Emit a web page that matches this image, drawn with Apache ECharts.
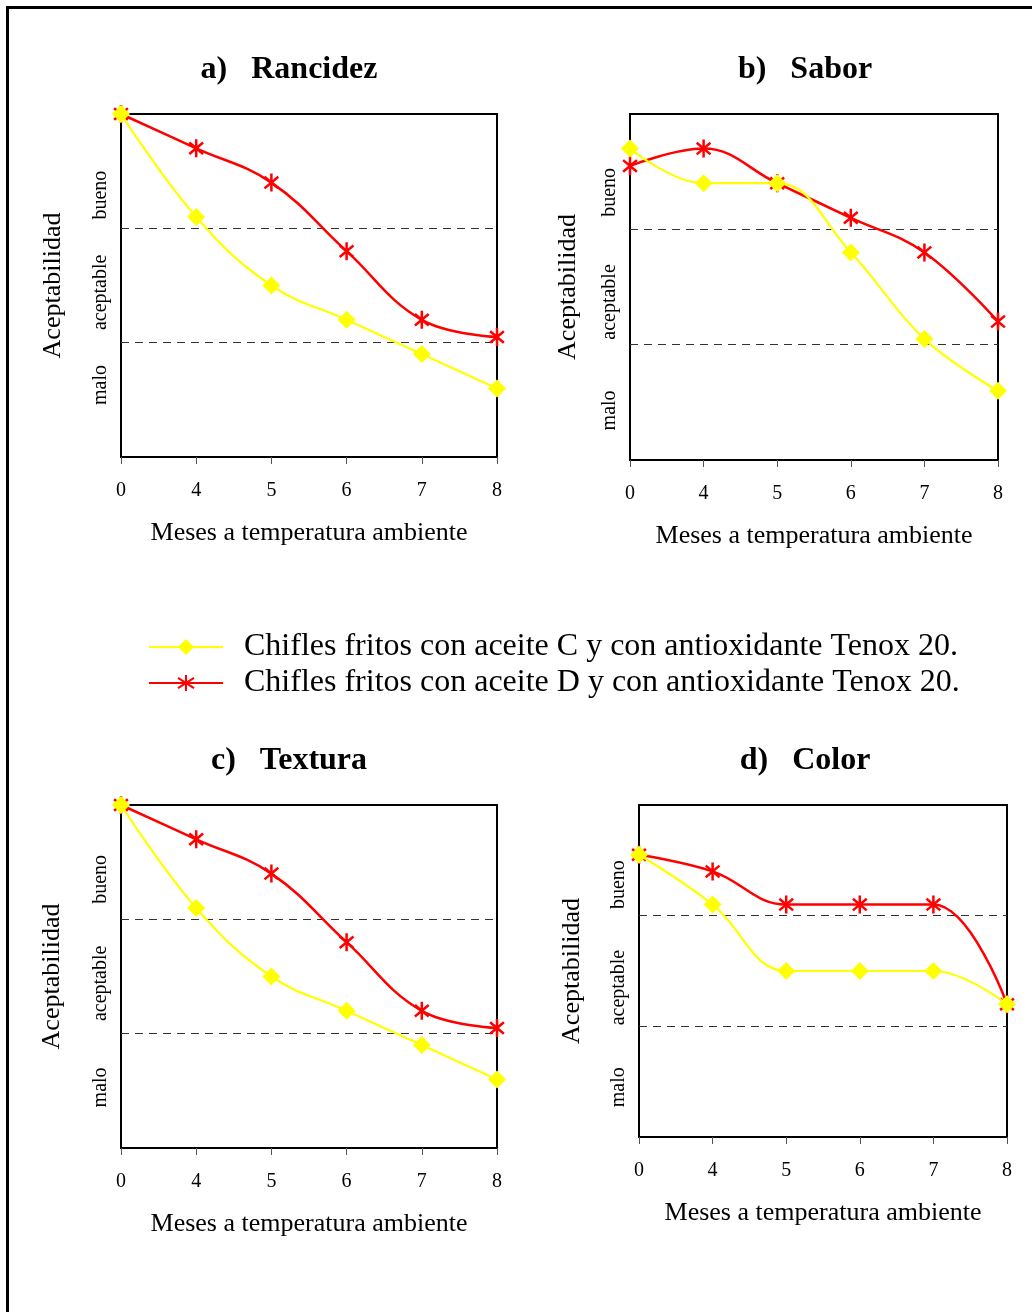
<!DOCTYPE html>
<html>
<head>
<meta charset="utf-8">
<script src="https://cdn.jsdelivr.net/npm/echarts@6/dist/echarts.min.js"></script>
<style>
html,body{margin:0;padding:0;background:#fff;}
#c{width:1032px;height:1312px;}
</style>
</head>
<body>
<div id="c"></div>
<script>
// ---- data ----
const months = ['0', '4', '5', '6', '7', '8'];
const rancidezC = [3.0, 2.1, 1.5, 1.2, 0.9, 0.6];
const rancidezD = [3.0, 2.7, 2.4, 1.8, 1.2, 1.05];
const saborC = [2.7, 2.4, 2.4, 1.8, 1.05, 0.6];
const saborD = [2.55, 2.7, 2.4, 2.1, 1.8, 1.2];
const texturaC = [3.0, 2.1, 1.5, 1.2, 0.9, 0.6];
const texturaD = [3.0, 2.7, 2.4, 1.8, 1.2, 1.05];
const colorC = [2.55, 2.1, 1.5, 1.5, 1.5, 1.2];
const colorD = [2.55, 2.4, 2.1, 2.1, 2.1, 1.2];
const seriesNames = [
  'Chifles fritos con aceite C y con antioxidante Tenox 20.',
  'Chifles fritos con aceite D y con antioxidante Tenox 20.'
];
const panelTitles = ['a)   Rancidez', 'b)   Sabor', 'c)   Textura', 'd)   Color'];
const levelLabels = ['malo', 'aceptable', 'bueno'];
const thresholds = [1, 2];
const xAxisTitle = 'Meses a temperatura ambiente';
const yAxisTitle = 'Aceptabilidad';

// ---- layout ----
const FONT = "'Liberation Serif', 'Times New Roman', serif";
const panels = [
  { title: panelTitles[0], c: rancidezC, d: rancidezD, grid: { left: 121, top: 114, width: 376, height: 343 }, tx: 289, ty: 54, levelPos: [0.63, 1.44, 2.29], nameGap: 55 },
  { title: panelTitles[1], c: saborC, d: saborD, grid: { left: 630, top: 114, width: 368, height: 346 }, tx: 805, ty: 54, levelPos: [0.43, 1.37, 2.32], nameGap: 49 },
  { title: panelTitles[2], c: texturaC, d: texturaD, grid: { left: 121, top: 805, width: 376, height: 343 }, tx: 289, ty: 745, levelPos: [0.53, 1.44, 2.35], nameGap: 56 },
  { title: panelTitles[3], c: colorC, d: colorD, grid: { left: 639, top: 805, width: 368, height: 332 }, tx: 805, ty: 745, levelPos: [0.45, 1.35, 2.28], nameGap: 54 }
];

const ASTERISK = 'path://M6.13,0L6.13,16M0,2.86L12.26,13.14M0,13.14L12.26,2.86';
const YELLOW = '#FFFF00';
const RED = '#FF0000';

const option = {
  animation: false,
  backgroundColor: '#ffffff',
  textStyle: { fontFamily: FONT, color: '#000' },
  title: panels.map(p => ({
    text: p.title,
    left: p.tx,
    top: p.ty,
    textAlign: 'center',
    padding: 0,
    textStyle: { fontFamily: FONT, fontSize: 32, fontWeight: 'bold', color: '#000' }
  })),
  legend: {
    left: 148,
    top: 631,
    padding: 0,
    orient: 'vertical',
    selectedMode: false,
    itemWidth: 74,
    itemHeight: 20,
    itemGap: 4,
    data: seriesNames,
    textStyle: { fontFamily: FONT, fontSize: 32, lineHeight: 32, color: '#000', padding: [0, 0, 0, 16] }
  },
  graphic: [{
    type: 'rect',
    shape: { x: 7.5, y: 7.5, width: 1200, height: 1500 },
    style: { fill: 'none', stroke: '#000', lineWidth: 3 },
    silent: true
  }],
  grid: panels.map(p => Object.assign({
    show: true, borderColor: '#000', borderWidth: 2, backgroundColor: 'transparent',
    containLabel: false, outerBoundsMode: 'none'
  }, p.grid)),
  xAxis: panels.map((p, i) => ({
    type: 'category',
    gridIndex: i,
    data: months,
    boundaryGap: false,
    axisLine: { show: true, lineStyle: { color: '#000', width: 2 } },
    axisTick: { show: true, inside: false, length: 7, lineStyle: { color: '#555', width: 1 } },
    axisLabel: { fontFamily: FONT, fontSize: 20, color: '#000', margin: 24 },
    splitLine: { show: false },
    name: xAxisTitle,
    nameLocation: 'middle',
    nameGap: 63,
    nameTextStyle: { fontFamily: FONT, fontSize: 26, color: '#000' }
  })),
  yAxis: panels.map((p, i) => ({
    type: 'value',
    gridIndex: i,
    min: 0,
    max: 3,
    interval: 1,
    axisLine: { show: false },
    axisTick: { show: false },
    splitLine: { show: false },
    axisLabel: {
      show: true,
      rotate: 90,
      customValues: p.levelPos,
      margin: 10,
      fontFamily: FONT,
      fontSize: 20,
      color: '#000',
      formatter: function (v) {
        let best = 0, bd = Infinity;
        p.levelPos.forEach((lv, k) => { const d = Math.abs(lv - v); if (d < bd) { bd = d; best = k; } });
        return levelLabels[best];
      }
    },
    name: yAxisTitle,
    nameLocation: 'middle',
    nameRotate: 90,
    nameGap: p.nameGap,
    nameMoveOverlap: false,
    nameTextStyle: { fontFamily: FONT, fontSize: 26, color: '#000' }
  })),
  series: panels.flatMap((p, i) => [
    {
      name: seriesNames[1],
      type: 'line',
      xAxisIndex: i,
      yAxisIndex: i,
      data: p.d,
      smooth: 0.4,
      clip: false,
      z: 2,
      symbol: ASTERISK,
      symbolSize: 18,
      symbolKeepAspect: true,
      lineStyle: { color: RED, width: 2.5 },
      itemStyle: { color: RED, borderColor: RED, borderWidth: 2.5 }
    },
    {
      name: seriesNames[0],
      type: 'line',
      xAxisIndex: i,
      yAxisIndex: i,
      data: p.c,
      smooth: 0.4,
      clip: false,
      z: 3,
      symbol: 'diamond',
      symbolSize: 18,
      lineStyle: { color: YELLOW, width: 2.2 },
      itemStyle: { color: YELLOW, borderWidth: 0 },
      markLine: {
        silent: true,
        z: 1,
        symbol: 'none',
        label: { show: false },
        lineStyle: { type: [8, 6], color: '#333', width: 1 },
        emphasis: { disabled: true },
        data: thresholds.map(v => ({ yAxis: v }))
      }
    }
  ])
};

const chart = echarts.init(document.getElementById('c'), null, { renderer: 'canvas' });
chart.setOption(option);
</script>
</body>
</html>
